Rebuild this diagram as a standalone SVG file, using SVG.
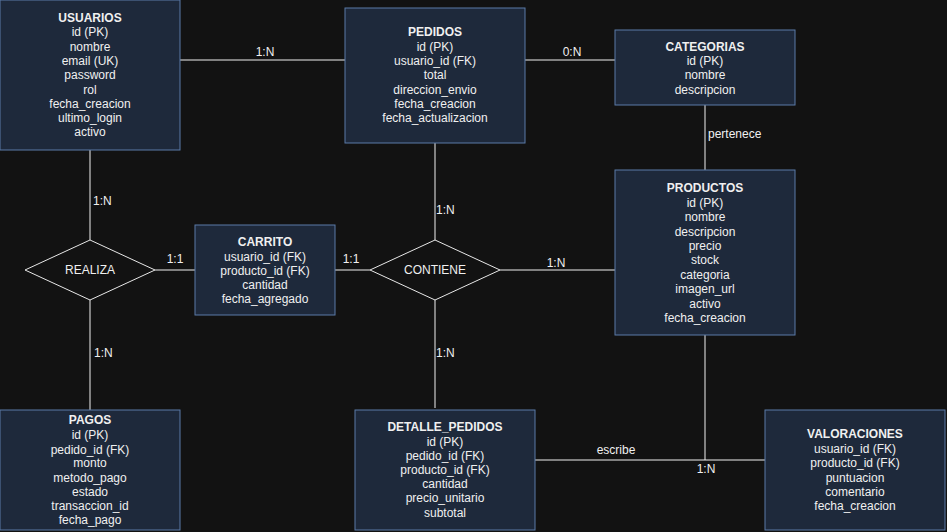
<svg xmlns="http://www.w3.org/2000/svg" width="947" height="532" viewBox="0 0 947 532">
<style>
text{font-family:"Liberation Sans",Arial,sans-serif;font-size:12px;fill:#f0f0f0;text-anchor:middle}
.t{font-weight:bold}
.e{fill:#1e293b;stroke:#5a7aa8;stroke-width:1}
.d{fill:#121212;stroke:#e8e8e8;stroke-width:1}
.c line{stroke:#f0f0f0;stroke-width:1}
.l{text-anchor:start}
</style>
<rect x="0" y="0" width="947" height="532" fill="#121212"/>
<g class="c" id="connectors">
<line x1="180" y1="60" x2="345" y2="60"/>
<line x1="525" y1="60" x2="615" y2="60"/>
<line x1="705" y1="105" x2="705" y2="170"/>
<line x1="705" y1="335" x2="705" y2="460"/>
<line x1="535" y1="460" x2="765" y2="460"/>
<line x1="500" y1="270" x2="615" y2="270"/>
<line x1="155" y1="270" x2="195" y2="270"/>
<line x1="335" y1="270" x2="370" y2="270"/>
<line x1="90" y1="150" x2="90" y2="240"/>
<line x1="90" y1="300" x2="90" y2="410"/>
<line x1="435" y1="143" x2="435" y2="240"/>
<line x1="435" y1="300" x2="435" y2="408"/>
<text x="265" y="56">1:N</text>
<text x="572" y="56">0:N</text>
<text class="l" x="708" y="138">pertenece</text>
<text x="616" y="454">escribe</text>
<text x="706" y="473">1:N</text>
<text x="556" y="267">1:N</text>
<text x="175" y="263">1:1</text>
<text x="351" y="263">1:1</text>
<text class="l" x="93" y="205">1:N</text>
<text class="l" x="94" y="357">1:N</text>
<text class="l" x="436" y="214">1:N</text>
<text class="l" x="436" y="357">1:N</text>
</g>
<g id="usuarios">
<rect class="e" x="0" y="0" width="180" height="150"/>
<text class="t" x="90" y="22">USUARIOS</text>
<text x="90" y="36">id (PK)</text>
<text x="90" y="50.5">nombre</text>
<text x="90" y="65">email (UK)</text>
<text x="90" y="79">password</text>
<text x="90" y="93.5">rol</text>
<text x="90" y="107.5">fecha_creacion</text>
<text x="90" y="122">ultimo_login</text>
<text x="90" y="136">activo</text>
</g>
<g id="pedidos">
<rect class="e" x="345" y="8" width="180" height="135"/>
<text class="t" x="435" y="36">PEDIDOS</text>
<text x="435" y="50.5">id (PK)</text>
<text x="435" y="65">usuario_id (FK)</text>
<text x="435" y="79">total</text>
<text x="435" y="93.5">direccion_envio</text>
<text x="435" y="107.5">fecha_creacion</text>
<text x="435" y="122">fecha_actualizacion</text>
</g>
<g id="categorias">
<rect class="e" x="615" y="30" width="180" height="75"/>
<text class="t" x="705" y="50.5">CATEGORIAS</text>
<text x="705" y="65">id (PK)</text>
<text x="705" y="79">nombre</text>
<text x="705" y="93.5">descripcion</text>
</g>
<g id="productos">
<rect class="e" x="615" y="170" width="180" height="165"/>
<text class="t" x="705" y="192">PRODUCTOS</text>
<text x="705" y="206.5">id (PK)</text>
<text x="705" y="221">nombre</text>
<text x="705" y="235.5">descripcion</text>
<text x="705" y="249.5">precio</text>
<text x="705" y="264">stock</text>
<text x="705" y="278.5">categoria</text>
<text x="705" y="293">imagen_url</text>
<text x="705" y="307.5">activo</text>
<text x="705" y="321.5">fecha_creacion</text>
</g>
<g id="realiza">
<polygon class="d" points="25,270 90,240 155,270 90,300"/>
<text x="90" y="274">REALIZA</text>
</g>
<g id="contiene">
<polygon class="d" points="370,270 435,240 500,270 435,300"/>
<text x="435" y="274">CONTIENE</text>
</g>
<g id="carrito">
<rect class="e" x="195" y="225" width="140" height="90"/>
<text class="t" x="265" y="246">CARRITO</text>
<text x="265" y="260.5">usuario_id (FK)</text>
<text x="265" y="274.5">producto_id (FK)</text>
<text x="265" y="289">cantidad</text>
<text x="265" y="303">fecha_agregado</text>
</g>
<g id="pagos">
<rect class="e" x="0" y="410" width="180" height="120"/>
<text class="t" x="90" y="424">PAGOS</text>
<text x="90" y="438.5">id (PK)</text>
<text x="90" y="453.5">pedido_id (FK)</text>
<text x="90" y="467">monto</text>
<text x="90" y="481.5">metodo_pago</text>
<text x="90" y="495.5">estado</text>
<text x="90" y="509.5">transaccion_id</text>
<text x="90" y="524">fecha_pago</text>
</g>
<g id="detalle_pedidos">
<rect class="e" x="355" y="410" width="180" height="120"/>
<text class="t" x="445" y="431">DETALLE_PEDIDOS</text>
<text x="445" y="445.5">id (PK)</text>
<text x="445" y="459.5">pedido_id (FK)</text>
<text x="445" y="473.5">producto_id (FK)</text>
<text x="445" y="488">cantidad</text>
<text x="445" y="502">precio_unitario</text>
<text x="445" y="516.5">subtotal</text>
</g>
<g id="valoraciones">
<rect class="e" x="765" y="410" width="180" height="120"/>
<text class="t" x="855" y="438">VALORACIONES</text>
<text x="855" y="452.5">usuario_id (FK)</text>
<text x="855" y="466.5">producto_id (FK)</text>
<text x="855" y="481.5">puntuacion</text>
<text x="855" y="495.5">comentario</text>
<text x="855" y="509.5">fecha_creacion</text>
</g>
</svg>
